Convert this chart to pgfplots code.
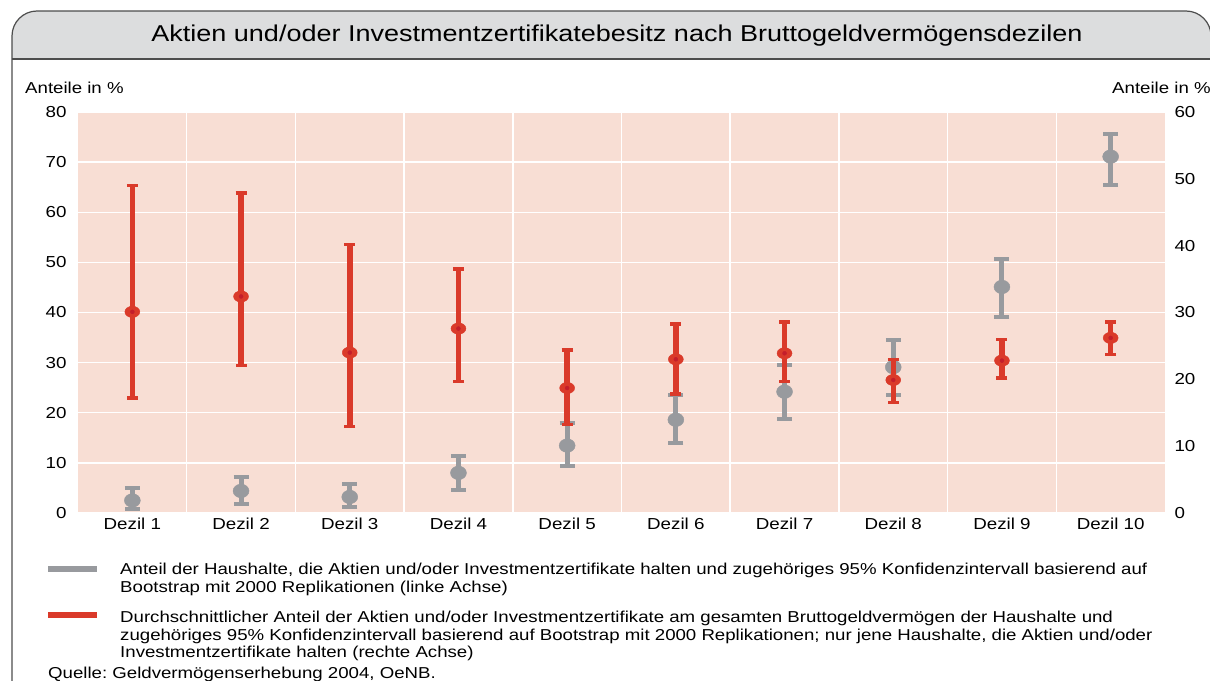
\documentclass[border=0pt]{standalone}
\usepackage{fontspec}
\setmainfont{Liberation Sans}[FakeStretch=1.18]
\usepackage{pgfplots}
\pgfplotsset{compat=1.18}
\usepackage{pgfplotstable}
\definecolor{bg}{HTML}{F8DED4}
\definecolor{gr}{HTML}{989A9E}
\definecolor{rd}{HTML}{DA3A2A}
\definecolor{rddot}{HTML}{C41E2A}
\definecolor{band}{HTML}{DCDDDE}
\definecolor{framec}{HTML}{4D4D4D}

\pgfplotstableread{
x y ep em
1 2.5 2.5 1.7
2 4.4 2.8 2.6
3 3.2 2.6 2.0
4 8.0 3.4 3.5
5 13.45 4.45 4.15
6 18.6 5.0 4.55
7 24.2 5.3 5.4
8 29.1 5.5 5.5
9 45.1 5.6 6.0
10 71.1 4.6 5.6
}\grayd

\pgfplotstableread{
x y ep em
1 30.1 18.9 12.9
2 32.4 15.5 10.3
3 24.0 16.2 11.1
4 27.6 8.9 7.9
5 18.7 5.7 5.5
6 23.0 5.3 5.2
7 23.9 4.7 4.2
8 19.9 3.1 3.4
9 22.8 3.2 2.6
10 26.2 2.4 2.5
}\redd

\begin{document}
\frenchspacing
\begin{tikzpicture}
\useasboundingbox (0pt,0pt) rectangle (1210pt,-680pt);
\fill[band] (12pt,-59pt) [rounded corners=25pt] -- (12pt,-11pt) -- (1211pt,-11pt) [sharp corners] -- (1211pt,-59pt) -- cycle;
\draw[framec, line width=1.2pt] (12pt,-690pt) [rounded corners=25pt] -- (12pt,-11pt) -- (1211pt,-11pt) [sharp corners] -- (1211pt,-690pt);
\draw[framec, line width=1.2pt] (12pt,-59pt) -- (1211pt,-59pt);
\node[font=\fontsize{22.9}{26}\selectfont, inner sep=0pt] at (617pt,-36pt) {Aktien und/oder Investmentzertifikatebesitz nach Bruttogeldvermögensdezilen};
\node[anchor=west, inner sep=0pt, font=\fontsize{15.8}{19}\selectfont] at (25pt,-88pt) {Anteile in \%};
\node[anchor=west, inner sep=0pt, font=\fontsize{15.8}{19}\selectfont] at (1112pt,-88pt) {Anteile in \%};

\begin{axis}[at={(78pt,-513pt)}, anchor=south west, scale only axis,
  width=1087pt, height=401pt,
  xmin=0.5, xmax=10.5, ymin=0, ymax=80,
  xtick={1,...,10},
  xticklabels={Dezil 1,Dezil 2,Dezil 3,Dezil 4,Dezil 5,Dezil 6,Dezil 7,Dezil 8,Dezil 9,Dezil 10},
  minor xtick={1.5,2.5,...,9.5},
  ytick={0,10,...,80},
  axis background/.style={fill=bg},
  ymajorgrids, xminorgrids,
  major grid style={white, line width=1.3pt},
  minor grid style={white, line width=1.5pt},
  axis line style={draw=none},
  major tick length=0pt, minor tick length=0pt,
  ytick pos=left, xtick pos=bottom,
  tick label style={font=\fontsize{15.9}{19}\selectfont},
  /pgf/number format/assume math mode=true,
  yticklabel style={xshift=-8pt},
  xticklabel style={yshift=-1pt},
  clip=false]
\addplot[only marks, mark=*, color=gr, mark size=8pt, mark options={yscale=0.85},
  error bars/.cd, y dir=both, y explicit,
  error bar style={line width=5pt, gr},
  error mark options={rotate=90, line width=4pt, mark size=7.5pt, gr}]
  table[x=x, y=y, y error plus=ep, y error minus=em]{\grayd};
\end{axis}

\begin{axis}[at={(78pt,-513pt)}, anchor=south west, scale only axis,
  width=1087pt, height=401pt,
  xmin=0.5, xmax=10.5, ymin=0, ymax=60,
  axis x line=none, axis y line*=right,
  ytick={0,10,...,60},
  axis line style={draw=none},
  major tick length=0pt,
  tick label style={font=\fontsize{15.9}{19}\selectfont},
  /pgf/number format/assume math mode=true,
  yticklabel style={xshift=6pt},
  clip=false]
\addplot[only marks, mark=*, color=rd, mark size=7.5pt, mark options={yscale=0.75},
  error bars/.cd, y dir=both, y explicit,
  error bar style={line width=5.5pt, rd},
  error mark options={rotate=90, line width=3.3pt, mark size=5.5pt, rd}]
  table[x=x, y=y, y error plus=ep, y error minus=em]{\redd};
\addplot[only marks, mark=*, color=rddot, mark size=2pt]
  table[x=x, y=y]{\redd};
\end{axis}

\fill[gr] (48pt,-566pt) rectangle (97pt,-572pt);
\fill[rd] (48pt,-612pt) rectangle (97pt,-618pt);
\node[anchor=north west, align=left, inner sep=0pt, font=\fontsize{15.8}{18}\selectfont] at (120pt,-563pt)
 {Anteil der Haushalte, die Aktien und/oder Investmentzertifikate halten und zugehöriges 95\% Konfidenzintervall basierend auf\\
  Bootstrap mit 2000 Replikationen (linke Achse)};
\node[anchor=north west, align=left, inner sep=0pt, font=\fontsize{15.8}{17.5}\selectfont] at (120pt,-611pt)
 {Durchschnittlicher Anteil der Aktien und/oder Investmentzertifikate am gesamten Bruttogeldvermögen der Haushalte und\\
  zugehöriges 95\% Konfidenzintervall basierend auf Bootstrap mit 2000 Replikationen; nur jene Haushalte, die Aktien und/oder\\
  Investmentzertifikate halten (rechte Achse)};
\node[anchor=base west, inner sep=0pt, font=\fontsize{15.8}{18}\selectfont] at (48pt,-678pt)
 {Quelle: Geldvermögenserhebung 2004, OeNB.};
\end{tikzpicture}
\end{document}
